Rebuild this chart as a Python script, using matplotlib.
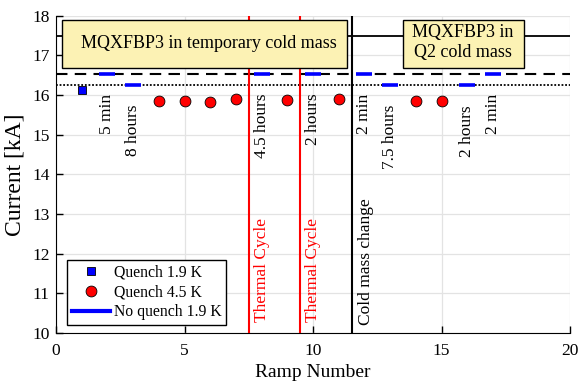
import matplotlib.pyplot as plt
from matplotlib.lines import Line2D
from matplotlib.patches import Rectangle

plt.rcParams["font.family"] = ["Liberation Serif", "DejaVu Serif"]
plt.rcParams["font.size"] = 12.5

# DATA
quench19_x = [1]
quench19_y = [16.13]
quench45_x = [4, 5, 6, 7, 9, 11, 14, 15]
quench45_y = [15.86, 15.86, 15.82, 15.91, 15.87, 15.90, 15.84, 15.84]
noquench_x = [2, 3, 8, 10, 12, 13, 16, 17]
noquench_y = [16.53, 16.25, 16.53, 16.53, 16.53, 16.25, 16.25, 16.53]
hold_labels = ["5 min", "8 hours", "4.5 hours", "2 hours",
               "2 min", "7.5 hours", "2 hours", "2 min"]

ref_solid = 17.5
ref_dashed = 16.53
ref_dotted = 16.25

thermal_cycles = [7.5, 9.5]
cold_mass_change = 11.5

fig = plt.figure(figsize=(5.8, 3.83), dpi=100)
ax = fig.add_axes([0.0966, 0.1305, 0.8862, 0.8285])

# reference lines
ax.axhline(ref_solid, color="black", lw=1.3, zorder=2)
ax.axhline(ref_dashed, color="black", lw=1.5, ls=(0, (5.5, 3.5)), zorder=2)
ax.axhline(ref_dotted, color="black", lw=1.3, ls=(0, (1, 1)), zorder=2)

# vertical event lines
for xv in thermal_cycles:
    ax.axvline(xv, color="red", lw=1.5, zorder=3)
    ax.text(xv + 0.5, 10.28, "Thermal Cycle", color="red", rotation=90,
            ha="center", va="bottom", fontsize=12.5)
ax.axvline(cold_mass_change, color="black", lw=1.5, zorder=3)
ax.text(cold_mass_change + 0.57, 10.2, "Cold mass change", rotation=90,
        ha="center", va="bottom", fontsize=12.5)

# data points
ax.plot(quench19_x, quench19_y, "s", color="blue", mec="black", mew=0.6,
        ms=5.6, zorder=5)
ax.plot(quench45_x, quench45_y, "o", color="red", mec="black", mew=0.6,
        ms=7.8, zorder=5)
ax.plot(noquench_x, noquench_y, "_", color="blue", ms=11, mew=2.6, zorder=5)

for x, y, lab in zip(noquench_x, noquench_y, hold_labels):
    ax.text(x, y - 0.5, lab, rotation=90, ha="center", va="top", fontsize=12.5)

# annotation boxes
box_color = "#fcf2b4"
ax.add_patch(Rectangle((0.25, 16.69), 11.08, 1.19, facecolor=box_color,
                       edgecolor="black", lw=1, zorder=6))
ax.text(5.93, 17.3, "MQXFBP3 in temporary cold mass", ha="center",
        va="center", fontsize=13, zorder=7)
ax.add_patch(Rectangle((13.49, 16.69), 4.73, 1.19, facecolor=box_color,
                       edgecolor="black", lw=1, zorder=6))
ax.text(15.84, 17.32, "MQXFBP3 in\nQ2 cold mass", ha="center", va="center",
        fontsize=13, linespacing=1.2, zorder=7)

# axes styling
ax.set_xlim(0, 20)
ax.set_ylim(10, 18)
ax.set_xticks([0, 5, 10, 15, 20])
ax.set_yticks(range(10, 19))
ax.grid(True, color="#e3e3e3", lw=0.9)
ax.set_axisbelow(True)
ax.spines["top"].set_visible(False)
ax.spines["right"].set_visible(False)
ax.tick_params(direction="in", length=5, width=1, labelsize=12.5)
ax.tick_params(axis="x", pad=7.5)
ax.tick_params(axis="y", pad=4.5)
ax.set_xlabel("Ramp Number", fontsize=14, labelpad=3)
ax.set_ylabel("Current [kA]", fontsize=17, labelpad=5)

handles = [
    Line2D([], [], ls="none", marker="s", color="blue", mec="black", mew=0.6, ms=5.6),
    Line2D([], [], ls="none", marker="o", color="red", mec="black", mew=0.6, ms=7.8),
    Line2D([], [], color="blue", lw=3),
]
leg = ax.legend(handles, ["Quench 1.9 K", "Quench 4.5 K", "No quench 1.9 K"],
                loc="lower left", bbox_to_anchor=(0.022, 0.025),
                borderaxespad=0, fancybox=False, edgecolor="black",
                framealpha=1, fontsize=11.3, handlelength=2.45,
                handletextpad=0.2, labelspacing=0.25, borderpad=0.3)
leg.get_frame().set_linewidth(1)
leg.set_zorder(8)

fig.savefig("out.png", dpi=100)
